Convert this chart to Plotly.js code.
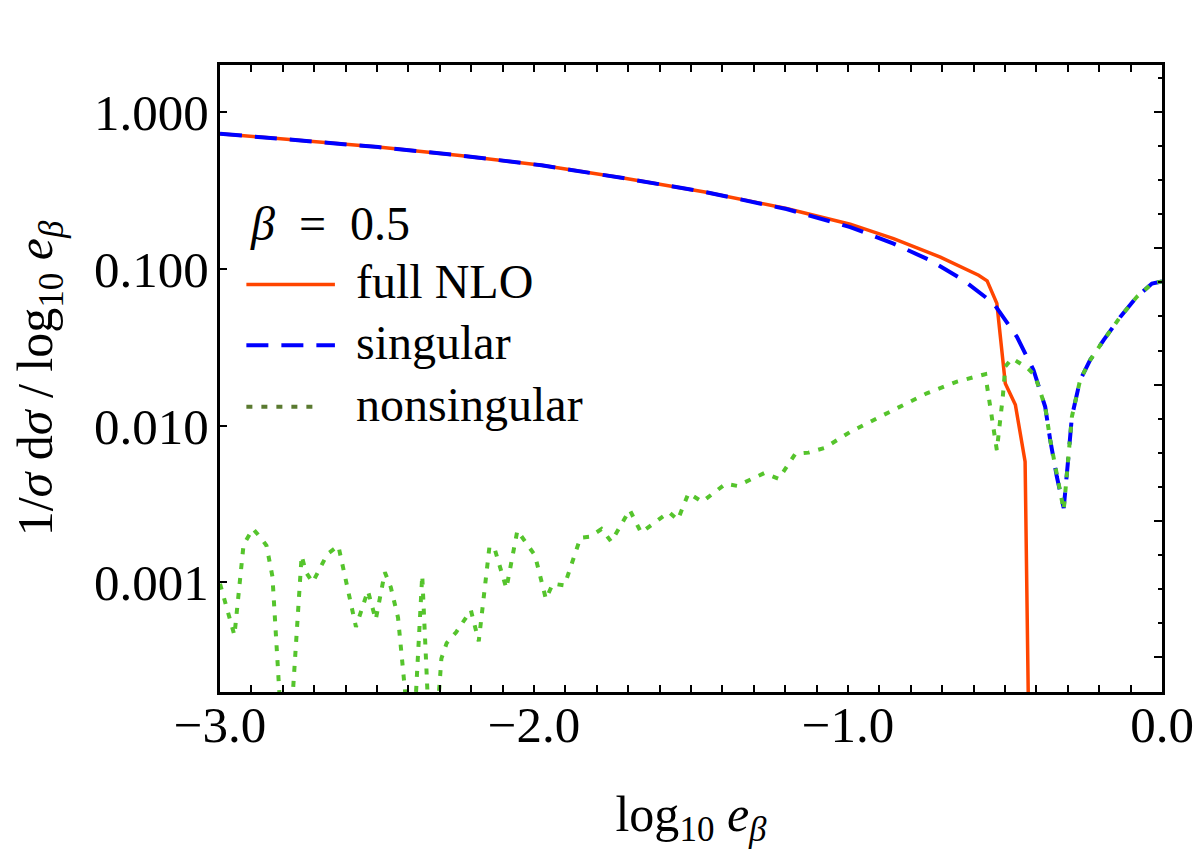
<!DOCTYPE html>
<html>
<head>
<meta charset="utf-8">
<script src="https://cdn.plot.ly/plotly-3.0.1.min.js"></script>
<style>
  html, body { margin: 0; padding: 0; background: #ffffff; }
  #chart { width: 1200px; height: 860px; }
</style>
</head>
<body>
<div id="chart"></div>
<script>
// ---- data (x = log10 e_beta) ----
const xFull = [-3.0, -2.756, -2.496, -2.236, -1.976, -1.716, -1.456, -1.196, -0.993, -0.855, -0.706, -0.584, -0.557, -0.526, -0.499, -0.467, -0.436, -0.424];
const yFull = [0.729, 0.660, 0.599, 0.530, 0.458, 0.380, 0.310, 0.243, 0.193, 0.156, 0.119, 0.0912, 0.0839, 0.0603, 0.0186, 0.0136, 0.0059, 0.0001];

const xSing = [-3.0, -2.756, -2.496, -2.236, -1.976, -1.716, -1.456, -1.196, -0.993, -0.855, -0.738, -0.632, -0.536, -0.462, -0.409, -0.372, -0.356, -0.335, -0.313, -0.298, -0.287, -0.261, -0.229, -0.186, -0.133, -0.080, -0.032, 0.0];
const ySing = [0.729, 0.660, 0.599, 0.530, 0.458, 0.380, 0.310, 0.241, 0.185, 0.145, 0.1135, 0.0847, 0.0602, 0.0369, 0.0226, 0.0132, 0.0081, 0.00474, 0.00298, 0.00634, 0.0114, 0.0195, 0.0262, 0.0351, 0.0494, 0.0664, 0.0807, 0.0833];

const xNons = [-3.0, -2.954, -2.925, -2.895, -2.866, -2.852, -2.833, -2.806, -2.774, -2.740, -2.726, -2.705, -2.658, -2.623, -2.567, -2.529, -2.504, -2.475, -2.456, -2.433, -2.388, -2.356, -2.325, -2.295, -2.278, -2.248, -2.201, -2.176, -2.142, -2.127, -2.088, -2.053, -1.997, -1.962, -1.940, -1.903, -1.852, -1.821, -1.785, -1.754, -1.695, -1.659, -1.570, -1.542, -1.508, -1.464, -1.390, -1.353, -1.267, -1.221, -1.168, -1.126, -1.075, -0.993, -0.887, -0.749, -0.653, -0.563, -0.547, -0.526, -0.507, -0.499, -0.478, -0.430, -0.405, -0.372, -0.356, -0.335, -0.313, -0.298, -0.287, -0.261, -0.229, -0.186, -0.133, -0.080, -0.032, 0.0];
const yNons = [0.00098, 0.00046, 0.00174, 0.00220, 0.00188, 0.00172, 0.00109, 0.000135, 0.000128, 0.00148, 0.00116, 0.00100, 0.00152, 0.00171, 0.00052, 0.000885, 0.000578, 0.00116, 0.00093, 0.000596, 0.000068, 0.00111, 0.000046, 0.000327, 0.000411, 0.000481, 0.000664, 0.000421, 0.00168, 0.00168, 0.000916, 0.00214, 0.00149, 0.000784, 0.000982, 0.000957, 0.00193, 0.00196, 0.00219, 0.00182, 0.00290, 0.00208, 0.00281, 0.00251, 0.00371, 0.00327, 0.00426, 0.00413, 0.00498, 0.00458, 0.00661, 0.00673, 0.00721, 0.00912, 0.0117, 0.0161, 0.0191, 0.0213, 0.0132, 0.00698, 0.0153, 0.0238, 0.0269, 0.0235, 0.0210, 0.0132, 0.0081, 0.00474, 0.00290, 0.00634, 0.0114, 0.0195, 0.0262, 0.0351, 0.0494, 0.0664, 0.0807, 0.0833];

// tick labels
const xTickVals = [-3, -2, -1, 0];
const xTickText = ["\u22123.0", "\u22122.0", "\u22121.0", "0.0"];
const yTickVals = [0.001, 0.01, 0.1, 1];
const yTickText = ["0.001", "0.010", "0.100", "1.000"];

// legend entries
const legendNames = ["full NLO", "singular", "nonsingular"];
const legendHeader = "<i>\u03b2</i>\u2002=\u20020.5";

// ---- styling ----
const FONT = "Liberation Serif, DejaVu Serif, serif";
const cRed = "#ff4500";
const cBlue = "#0000ff";
const cGreen = "#55c42c";
const cGreenLegend = "#5a7a30";

const traces = [
  { x: xFull, y: yFull, name: legendNames[0], type: "scatter", mode: "lines",
    line: { color: cRed, width: 3.5 }, showlegend: false },
  { x: xSing, y: ySing, name: legendNames[1], type: "scatter", mode: "lines",
    line: { color: cBlue, width: 4, dash: "22px,13px" }, showlegend: false },
  { x: xNons, y: yNons, name: legendNames[2], type: "scatter", mode: "lines",
    line: { color: cGreen, width: 4, dash: "6px,9px" }, showlegend: false },
  { x: [], y: [], yaxis: "y2", type: "scatter", mode: "lines", showlegend: false, hoverinfo: "skip" }
];

// legend layout helpers (paper coordinates)
const legX0 = 0.028, legX1 = 0.122, legTextX = 0.142;
const legRowY = [0.650, 0.553, 0.455];
const legColors = [cRed, cBlue, cGreenLegend];
const legDash = ["solid", "22px,13px", "6px,9px"];
const legWidth = [3.5, 4, 4];

const shapes = legendNames.map((n, i) => ({
  type: "line", xref: "paper", yref: "paper",
  x0: legX0, x1: (i === 2 ? 0.107 : legX1), y0: legRowY[i], y1: legRowY[i],
  line: { color: legColors[i], width: legWidth[i], dash: legDash[i] }
}));

const annotations = legendNames.map((n, i) => ({
  xref: "paper", yref: "paper", x: legTextX, y: legRowY[i] + 0.004,
  xanchor: "left", yanchor: "middle", showarrow: false, text: n,
  font: { family: FONT, size: 48, color: "#000" }
}));
annotations.push({
  xref: "paper", yref: "paper", x: 0.030, y: 0.747, xanchor: "left", yanchor: "middle",
  showarrow: false, text: legendHeader, font: { family: FONT, size: 48, color: "#000" }
});

const layout = {
  width: 1200, height: 860,
  margin: { l: 220, r: 38, t: 65, b: 168 },
  paper_bgcolor: "#ffffff", plot_bgcolor: "#ffffff",
  font: { family: FONT, size: 50, color: "#000" },
  xaxis: {
    range: [-3, 0], showgrid: false, zeroline: false,
    showline: true, linecolor: "#000", linewidth: 3, mirror: "allticks",
    ticks: "inside", ticklen: 7, tickwidth: 2, tickcolor: "#000",
    tickvals: xTickVals, ticktext: xTickText,
    tickfont: { family: FONT, size: 51, color: "#000" },
    ticklabelstandoff: -14,
    minor: { dtick: 0.1, tick0: 0, ticks: "inside", ticklen: 6, tickwidth: 2, tickcolor: "#000", showgrid: false },
    title: { text: "log<sub>10</sub> <i>e</i><sub><i>\u03b2</i></sub>", standoff: 44,
             font: { family: FONT, size: 50, color: "#000" } }
  },
  yaxis: {
    type: "log", range: [Math.log10(0.0002), Math.log10(2)],
    showgrid: false, zeroline: false,
    showline: true, linecolor: "#000", linewidth: 3, mirror: true,
    ticks: "inside", ticklen: 7, tickwidth: 2, tickcolor: "#000",
    tickvals: yTickVals, ticktext: yTickText,
    tickfont: { family: FONT, size: 51, color: "#000" },
    ticklabelstandoff: -2,
    title: { text: "1/<i>\u03c3</i> d<i>\u03c3</i> / log<sub>10</sub> <i>e</i><sub><i>\u03b2</i></sub>",
             standoff: 26, font: { family: FONT, size: 50, color: "#000" } }
  },
  yaxis2: {
    overlaying: "y", side: "right", anchor: "x",
    range: [0, 4.603], showgrid: false, zeroline: false, showline: false,
    showticklabels: false, ticks: "inside", ticklen: 8, tickwidth: 2, tickcolor: "#000",
    tick0: 0.257, dtick: 1,
    minor: { dtick: 0.25, tick0: 0.257, ticks: "inside", ticklen: 4, tickwidth: 2, tickcolor: "#000", showgrid: false }
  },
  shapes: shapes,
  annotations: annotations,
  showlegend: false
};

Plotly.newPlot("chart", traces, layout, { displayModeBar: false, staticPlot: true });
</script>
</body>
</html>
